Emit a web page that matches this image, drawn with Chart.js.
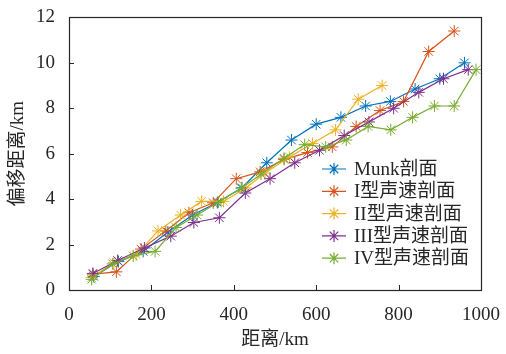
<!DOCTYPE html>
<html>
<head>
<meta charset="utf-8">
<script src="https://cdn.jsdelivr.net/npm/chart.js@4/dist/chart.umd.min.js"></script>
<style>
  html, body { margin: 0; padding: 0; background: #fff; }
  canvas { display: block; }
</style>
</head>
<body>
<canvas id="c" width="506" height="354"></canvas>
<script>
// --- Data ---
const seriesNames = ['Munk剖面', 'I型声速剖面', 'II型声速剖面', 'III型声速剖面', 'IV型声速剖面'];
const seriesColors = ['#0072BD', '#D95319', '#EDB120', '#7E2F8E', '#77AC30'];

const munkX = [60, 120, 180, 240, 300, 360, 420, 480, 540, 600, 660, 720, 780, 840, 900, 960];
const munkY = [0.6, 1.25, 1.7, 2.55, 3.3, 3.85, 4.5, 5.6, 6.6, 7.3, 7.6, 8.1, 8.3, 8.85, 9.3, 10.0];

const type1X = [58, 115, 175, 235, 291, 350, 406, 464, 522, 579, 639, 697, 755, 812, 873, 935];
const type1Y = [0.7, 0.8, 1.8, 2.6, 3.4, 3.84, 4.9, 5.2, 5.75, 6.05, 6.3, 7.2, 7.9, 8.3, 10.5, 11.4];

const type2X = [55, 109, 163, 216, 271, 322, 375, 430, 476, 535, 591, 647, 702, 760];
const type2Y = [0.55, 1.2, 1.55, 2.6, 3.3, 3.9, 3.9, 4.5, 5.15, 5.85, 6.45, 7.05, 8.4, 9.0];

const type3X = [58, 118, 183, 247, 303, 365, 428, 488, 548, 608, 668, 728, 788, 849, 909, 969];
const type3Y = [0.73, 1.3, 1.85, 2.37, 2.97, 3.18, 4.27, 4.9, 5.6, 6.15, 6.8, 7.4, 8.0, 8.7, 9.3, 9.7];

const type4X = [55, 106, 156, 209, 260, 311, 363, 418, 466, 522, 572, 623, 673, 726, 781, 834, 887, 935, 988];
const type4Y = [0.47, 1.15, 1.5, 1.7, 2.75, 3.3, 3.87, 4.48, 5.1, 5.8, 6.4, 6.3, 6.6, 7.2, 7.05, 7.6, 8.1, 8.1, 9.7];

const xTicks = [0, 200, 400, 600, 800, 1000];
const yTicks = [0, 2, 4, 6, 8, 10, 12];

const allX = [munkX, type1X, type2X, type3X, type4X];
const allY = [munkY, type1Y, type2Y, type3Y, type4Y];

const SERIF = '"Liberation Serif", "Noto Sans CJK SC", serif';
const FONT_SIZE = 19;

function zip(xs, ys) {
  return xs.map((x, i) => ({ x: x, y: ys[i] }));
}

// --- Box, inward ticks and legend inside the axes ---
const boxPlugin = {
  id: 'box',
  afterDraw(chart) {
    const ctx = chart.ctx;
    const a = chart.chartArea;
    const xs = chart.scales.x, ys = chart.scales.y;
    ctx.save();
    ctx.strokeStyle = '#262626';
    ctx.lineWidth = 1;
    ctx.beginPath();
    xTicks.forEach(v => {
      const px = Math.round(xs.getPixelForValue(v)) + 0.5;
      ctx.moveTo(px, a.bottom);
      ctx.lineTo(px, a.bottom - 5);
    });
    yTicks.forEach(v => {
      const py = Math.round(ys.getPixelForValue(v)) + 0.5;
      ctx.moveTo(a.left, py);
      ctx.lineTo(a.left + 5, py);
    });
    ctx.stroke();
    ctx.lineWidth = 1.2;
    ctx.strokeRect(Math.round(a.left) + 0.5, Math.round(a.top) + 0.5,
      Math.round(a.right - a.left), Math.round(a.bottom - a.top));

    // legend
    const lx0 = 322, lx1 = 346, tx = 354, y0 = 169, dy = 22.3;
    ctx.font = FONT_SIZE + 'px ' + SERIF;
    ctx.textBaseline = 'middle';
    ctx.textAlign = 'left';
    chart.data.datasets.forEach((ds, i) => {
      const y = y0 + i * dy;
      ctx.strokeStyle = ds.borderColor;
      ctx.lineWidth = 1.2;
      ctx.beginPath();
      ctx.moveTo(lx0, y);
      ctx.lineTo(lx1, y);
      const cx = (lx0 + lx1) / 2, r = 6;
      ctx.moveTo(cx - r, y); ctx.lineTo(cx + r, y);
      ctx.moveTo(cx, y - r); ctx.lineTo(cx, y + r);
      const d = r * Math.SQRT1_2;
      ctx.moveTo(cx - d, y - d); ctx.lineTo(cx + d, y + d);
      ctx.moveTo(cx - d, y + d); ctx.lineTo(cx + d, y - d);
      ctx.stroke();
      ctx.fillStyle = '#262626';
      ctx.fillText(ds.label, tx, y + 1);
    });
    ctx.restore();
  }
};

new Chart(document.getElementById('c'), {
  type: 'scatter',
  data: {
    datasets: seriesNames.map((name, i) => ({
      label: name,
      data: zip(allX[i], allY[i]),
      showLine: true,
      borderColor: seriesColors[i],
      backgroundColor: seriesColors[i],
      borderWidth: 1.2,
      pointStyle: 'star',
      pointRadius: 6,
      pointBorderWidth: 1,
      pointHoverRadius: 6,
      order: seriesNames.length - 1 - i
    }))
  },
  options: {
    responsive: false,
    animation: false,
    events: [],
    layout: { padding: { top: 11, right: 21, left: 0, bottom: 0 } },
    plugins: { legend: { display: false }, tooltip: { enabled: false } },
    scales: {
      x: {
        type: 'linear',
        min: 0, max: 1000,
        afterBuildTicks: s => { s.ticks = xTicks.map(v => ({ value: v })); },
        afterFit: s => { s.height = 64; },
        grid: { display: false },
        border: { display: false },
        ticks: { color: '#262626', padding: 6, maxRotation: 0, callback: v => String(v), font: { family: SERIF, size: FONT_SIZE } },
        title: { display: true, text: '距离/km', color: '#262626', padding: { top: 0, bottom: 3 }, font: { family: SERIF, size: FONT_SIZE } }
      },
      y: {
        type: 'linear',
        min: 0, max: 12,
        afterBuildTicks: s => { s.ticks = yTicks.map(v => ({ value: v })); },
        afterFit: s => { s.width = 69; },
        grid: { display: false },
        border: { display: false },
        ticks: { color: '#262626', padding: 6, callback: v => String(v), font: { family: SERIF, size: FONT_SIZE } },
        title: { display: true, text: '偏移距离/km', color: '#262626', padding: { top: 7, bottom: 0 }, font: { family: SERIF, size: FONT_SIZE } }
      }
    }
  },
  plugins: [boxPlugin]
});
</script>
</body>
</html>
